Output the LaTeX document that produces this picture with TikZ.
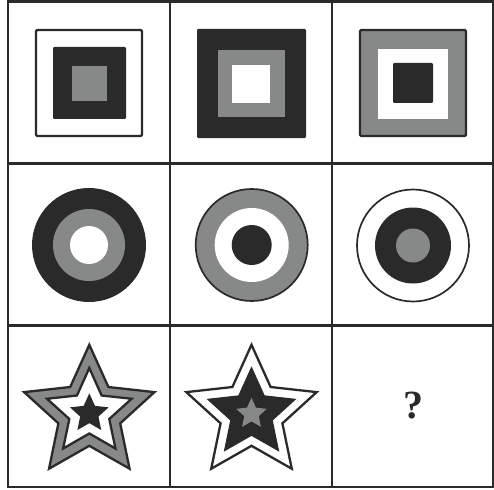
\documentclass[tikz,border=0pt]{standalone}
\usepackage{fontspec}
\setmainfont{Liberation Serif}
\definecolor{dk}{HTML}{2B2A2B}
\definecolor{gr}{HTML}{878888}
\newcommand{\drawstar}[5]{\path[#5,shift={(#1,#2)}] (-90:#3) \foreach \k in {1,...,9}{ -- ({-90+36*\k}:{mod(\k,2)==1 ? #4 : #3}) } -- cycle;}
\tikzset{
  grid/.style={draw=dk,line width=2.8},
  edge/.style={draw=dk,line width=2.3},
  thin edge/.style={draw=dk,line width=1.7},
  sq/.style={rounded corners=1.2},
}
\begin{document}
\begin{tikzpicture}[x=1pt,y=-1pt]
\useasboundingbox (0,0) rectangle (494,489);
\fill[white] (0,0) rectangle (494,489);
% row 1: squares
\path[sq,fill=white,edge] (36,30) rectangle (142,136);
\path[sq,fill=dk] (53,47) rectangle (126,119);
\path[fill=gr] (72,66) rectangle (107,101);
\path[sq,fill=dk] (197,29) rectangle (306,138);
\path[fill=gr] (218,50) rectangle (285,117);
\path[fill=white] (232,65) rectangle (270,103);
\path[sq,fill=gr,edge] (360,30) rectangle (466,136);
\path[fill=white] (378,49) rectangle (448,119);
\path[sq,fill=dk] (393,63) rectangle (433,103);
% row 2: circles
\fill[dk] (89,245) circle (57);
\fill[gr] (89,245) circle (36);
\fill[white] (89,245) circle (19);
\path[fill=gr,thin edge] (251.7,245) circle (56);
\fill[white] (251.7,245) circle (37);
\fill[dk] (251.7,245) circle (20);
\path[fill=white,thin edge] (413,245.5) circle (56);
\fill[dk] (413,245.5) circle (38);
\fill[gr] (413,245.5) circle (17);
% row 3: stars
\drawstar{89.3}{413.3}{68.5}{32.5}{fill=gr,edge}
\drawstar{89.3}{412.5}{44.5}{21}{fill=white,edge}
\drawstar{89.3}{413.6}{20.3}{9.6}{fill=dk}
\drawstar{251.5}{413.3}{68.5}{32.5}{fill=white,edge}
\drawstar{251.5}{413.5}{46}{21.8}{fill=dk,draw=dk,line width=1}
\drawstar{251.5}{413.8}{16}{7.6}{fill=gr}
\node[font=\fontsize{40}{40}\selectfont\bfseries,inner sep=0,text=dk] (q) at (413.8,405.8) {?};
% grid
\path[grid] (8,1.5) rectangle (493,487);
\path[grid] (170,1.5) -- (170,487) (332,1.5) -- (332,487);
\path[grid] (8,163.5) -- (493,163.5) (8,325.5) -- (493,325.5);
\end{tikzpicture}
\end{document}
